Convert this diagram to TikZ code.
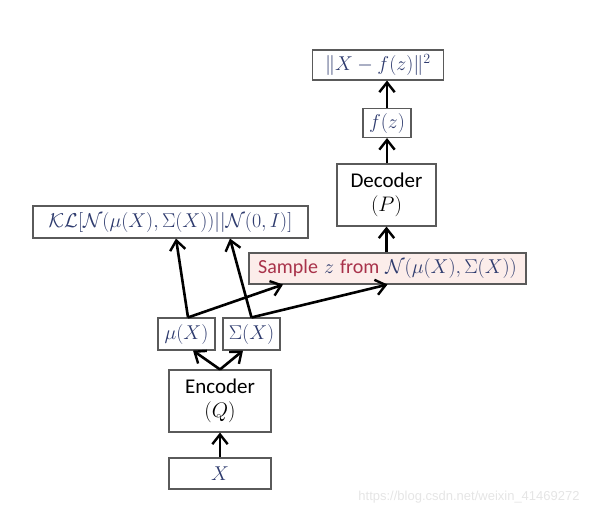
\RequirePackage{fix-cm}
\documentclass[tikz,border=0pt]{standalone}
\usepackage{amsmath,amssymb}
\usepackage{fontspec}
\setsansfont{Carlito}
\newfontfamily\markfont{Liberation Sans}
\usepackage{xcolor}
\usetikzlibrary{arrows.meta,positioning}
\definecolor{mathblue}{HTML}{2E3B6E}
\definecolor{framegray}{HTML}{5A5A5A}
\definecolor{samplered}{HTML}{A8324A}
\definecolor{samplefill}{HTML}{FCEDEA}

\begin{document}
\begin{tikzpicture}[
          x=1pt,y=-1pt,
          every node/.style={font=\fontsize{20}{23}\selectfont},
          box/.style={draw=framegray,line width=1.1pt,fill=white,
                      inner sep=2pt,text=mathblue},
          unit/.style={box,text=black,align=center,font=\sffamily\fontsize{21}{24}\selectfont},
          arr/.style={-{Straight Barb[length=3.4mm,width=5.4mm,line width=2.4pt]},line width=2.6pt},
      ]
        \useasboundingbox (0,0) rectangle (612,517);
        % output side
        \node[box,minimum width=131pt,minimum height=30pt] (loss) at (378,65)
          {$\|X-f(z)\|^2$};
        \node[box,minimum width=48pt,minimum height=29pt] (fz) at (387,123) {$f(z)$};
        \node[unit,minimum width=99pt,minimum height=62pt] (dec) at (386.5,195)
          {Decoder\\$(P)$};
        % latent
        \node[box,minimum width=275pt,minimum height=32pt] (kl) at (170.5,222)
          {$\mathcal{KL}[\mathcal{N}(\mu(X),\Sigma(X))||\mathcal{N}(0,I)]$};
        \node[box,fill=samplefill,minimum width=277pt,minimum height=31pt] (smp) at (387.5,268.5)
          {\textcolor{samplered}{\sffamily Sample} $z$ \textcolor{samplered}{\sffamily from} $\mathcal{N}(\mu(X),\Sigma(X))$};
        \node[box,minimum width=57pt,minimum height=32pt] (mu) at (186.5,334) {$\mu(X)$};
        \node[box,minimum width=57pt,minimum height=32pt] (sig) at (251.5,334) {$\Sigma(X)$};
        % input side
        \node[unit,minimum width=102pt,minimum height=62pt] (enc) at (220,401)
          {Encoder\\$(Q)$};
        \node[box,minimum width=102pt,minimum height=31pt] (x) at (220,473.5) {$X$};
        \node[text=black!10,font=\markfont\fontsize{13}{15}\selectfont] (mark) at (469,497)
          {https://blog.csdn.net/weixin\_41469272};

        \draw[arr] (x) -- (enc);
        \draw[arr] (enc.north) -- (mu.south -| 193,0);
        \draw[arr] (enc.north) -- (sig.south -| 243,0);
        \draw[arr] (mu.north -| 188,0) -- (kl.south -| 176,0);
        \draw[arr] (mu.north -| 188,0) -- (smp.south -| 283,0);
        \draw[arr] (sig.north) -- (kl.south -| 230,0);
        \draw[arr] (sig.north) -- (smp.south);
        \draw[arr] (smp.north -| dec) -- (dec);
        \draw[arr] (dec.north -| fz) -- (fz);
        \draw[arr] (fz.north) -- (loss.south -| fz);
      \end{tikzpicture}
\end{document}
